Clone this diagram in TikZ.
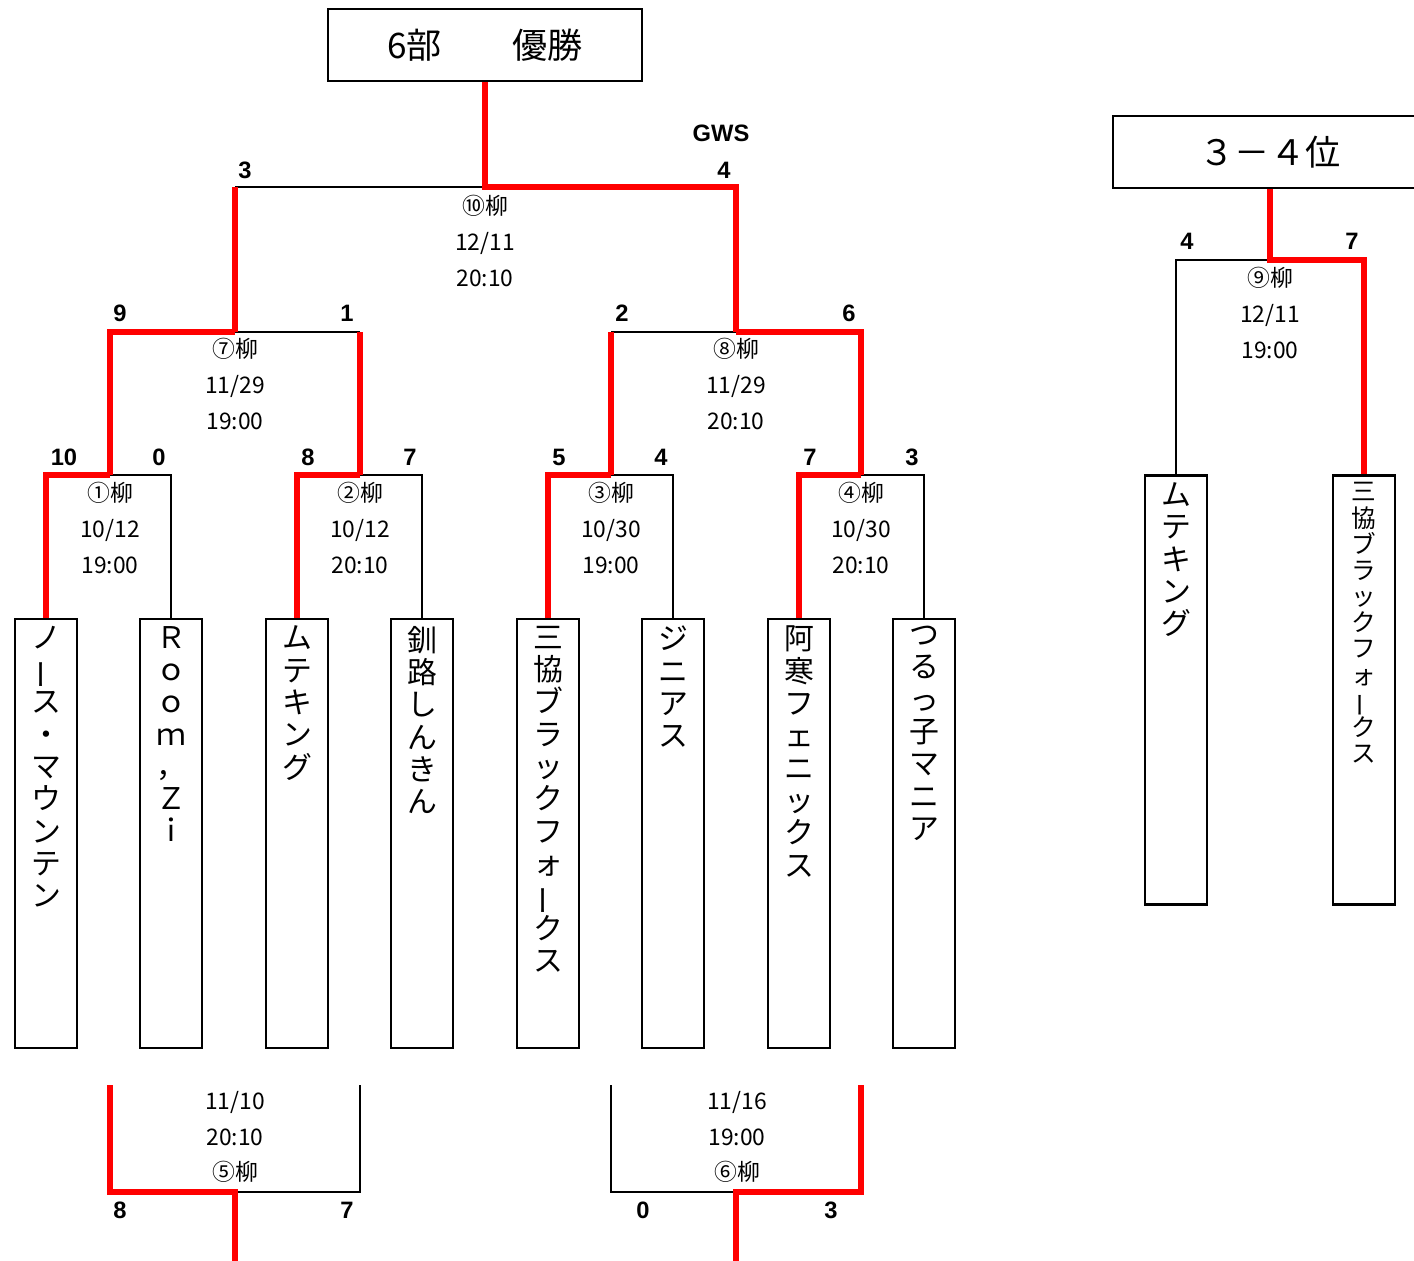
\documentclass[tikz,border=0pt]{standalone}
\usepackage{fontspec}
\usepackage{graphicx}
\setmainfont{Noto Sans CJK JP}
\newfontfamily\scorefont{Liberation Sans}
\newcommand{\tbar}{\smash{\rotatebox[origin=c]{90}{ー}}}

\begin{document}
\begin{tikzpicture}[
        x=0.02cm, y=-0.02cm,
        every node/.style={font=\fontsize{13}{20.4}\selectfont},
        teambox/.style={rectangle, draw, line width=1.4pt, minimum width=1.24cm, minimum height=8.58cm},
        headbox/.style={rectangle, draw, line width=1.4pt, minimum width=6.28cm, minimum height=1.44cm, font=\fontsize{20}{24}\selectfont},
        teamname/.style={anchor=north, align=center, inner sep=1pt, yshift=-3.5pt, font=\fontsize{17}{18.4}\selectfont},
        info/.style={align=center, inner sep=0pt},
        score/.style={inner sep=0pt, font=\scorefont\bfseries\fontsize{13.5}{16}\selectfont},
        loss/.style={line width=1.5pt},
        win/.style={red, line width=3.4pt}
    ]
    \useasboundingbox (0,0) rectangle (1414,1261);
%
    % Title boxes
    \node[headbox] (champ) at (485,45) {6部　　優勝};
    \node[headbox] (third) at (1270,152) {３－４位};
%
    % Team boxes
    \foreach \i/\x in {1/46, 2/171, 3/297, 4/422, 5/548, 6/673, 7/799, 8/924}
        \node[teambox] (t\i) at (\x,833.5) {};
    \node[teambox] (t9) at (1176,690) {};
    \node[teambox] (t10) at (1364,690) {};
%
    % Team names
    \node[teamname] (n1) at (t1.north) {ノ\\\tbar\\ス\\・\\マ\\ウ\\ン\\テ\\ン};
    \node[teamname] (n2) at (t2.north) {Ｒ\\ｏ\\ｏ\\ｍ\\，\\Ｚ\\ｉ};
    \node[teamname] (n3) at (t3.north) {ム\\テ\\キ\\ン\\グ};
    \node[teamname] (n4) at (t4.north) {釧\\路\\し\\ん\\き\\ん};
    \node[teamname] (n5) at (t5.north) {三\\協\\ブ\\ラ\\ッ\\ク\\フ\\ォ\\\tbar\\ク\\ス};
    \node[teamname] (n6) at (t6.north) {ジ\\ニ\\ア\\ス};
    \node[teamname] (n7) at (t7.north) {阿\\寒\\フ\\ェ\\ニ\\ッ\\ク\\ス};
    \node[teamname] (n8) at (t8.north) {つ\\る\\っ\\子\\マ\\ニ\\ア};
    \node[teamname] (n9) at (t9.north) {ム\\テ\\キ\\ン\\グ};
    \node[teamname, font=\fontsize{14}{14.9}\selectfont] (n10) at (t10.north) {三\\協\\ブ\\ラ\\ッ\\ク\\フ\\ォ\\\tbar\\ク\\ス};
%
    % Match points
    \coordinate (m1) at (110,475);
    \coordinate (m2) at (360,475);
    \coordinate (m3) at (611,475);
    \coordinate (m4) at (861,475);
    \coordinate (m7) at (235,332);
    \coordinate (m8) at (736,332);
    \coordinate (m10) at (485,187);
    \coordinate (m9) at (1270,260);
    \coordinate (m5) at (235,1192);
    \coordinate (m6) at (736,1192);
    \coordinate (a5l) at (110,1085);
    \coordinate (a5r) at (360,1085);
    \coordinate (a6l) at (611,1085);
    \coordinate (a6r) at (861,1085);
    \coordinate (o5) at (235,1261);
    \coordinate (o6) at (736,1261);
%
    % Losing sides
    \draw[loss] (t2.north) |- (m1);
    \draw[loss] (t4.north) |- (m2);
    \draw[loss] (t6.north) |- (m3);
    \draw[loss] (t8.north) |- (m4);
    \draw[loss] (m7) -- (m2 |- m7);
    \draw[loss] (m8) -- (m3 |- m8);
    \draw[loss] (m10) -- (m7 |- m10);
    \draw[loss] (t9.north) |- (m9);
    \draw[loss] (a5r) |- (m5);
    \draw[loss] (a6l) |- (m6);
%
    % Winning sides
    \draw[win] (t1.north) |- (m1);
    \draw[win] (t3.north) |- (m2);
    \draw[win] (t5.north) |- (m3);
    \draw[win] (t7.north) |- (m4);
    \draw[win] (m1) |- (m7);
    \draw[win] (m2) -- (m2 |- m7);
    \draw[win] (m3) -- (m3 |- m8);
    \draw[win] (m4) |- (m8);
    \draw[win] (m7) -- (m7 |- m10);
    \draw[win] (m8) |- (m10) -- (champ.south);
    \draw[win] (t10.north) |- (m9) -- (third.south);
    \draw[win] (a5l) |- (m5) -- (o5);
    \draw[win] (a6r) |- (m6) -- (o6);
%
    % Match info
    \node[info] (i1) at (110,528) {①柳\\10/12\\19:00};
    \node[info] (i2) at (360,528) {②柳\\10/12\\20:10};
    \node[info] (i3) at (611,528) {③柳\\10/30\\19:00};
    \node[info] (i4) at (861,528) {④柳\\10/30\\20:10};
    \node[info] (i7) at (235,384) {⑦柳\\11/29\\19:00};
    \node[info] (i8) at (736,384) {⑧柳\\11/29\\20:10};
    \node[info] (i10) at (485,241) {⑩柳\\12/11\\20:10};
    \node[info] (i9) at (1270,313) {⑨柳\\12/11\\19:00};
    \node[info] (i5) at (235,1137) {11/10\\20:10\\⑤柳};
    \node[info] (i6) at (737,1137) {11/16\\19:00\\⑥柳};
%
    % Scores
    \foreach \n/\x/\y/\s in {a/64/457/10, b/159/457/0, c/308/457/8, d/410/457/7,
            e/559/457/5, f/661/457/4, g/810/457/7, h/912/457/3,
            i/120/313/9, j/347/313/1, k/622/313/2, l/849/313/6,
            m/245/170/3, n/724/170/4, o/1187/241/4, p/1352/241/7,
            q/120/1210/8, r/347/1210/7, s/643/1210/0, t/831/1210/3}
        \node[score] (s\n) at (\x,\y) {\s};
    \node[score] (gws) at (721,133) {GWS};
%
\end{tikzpicture}
\end{document}
